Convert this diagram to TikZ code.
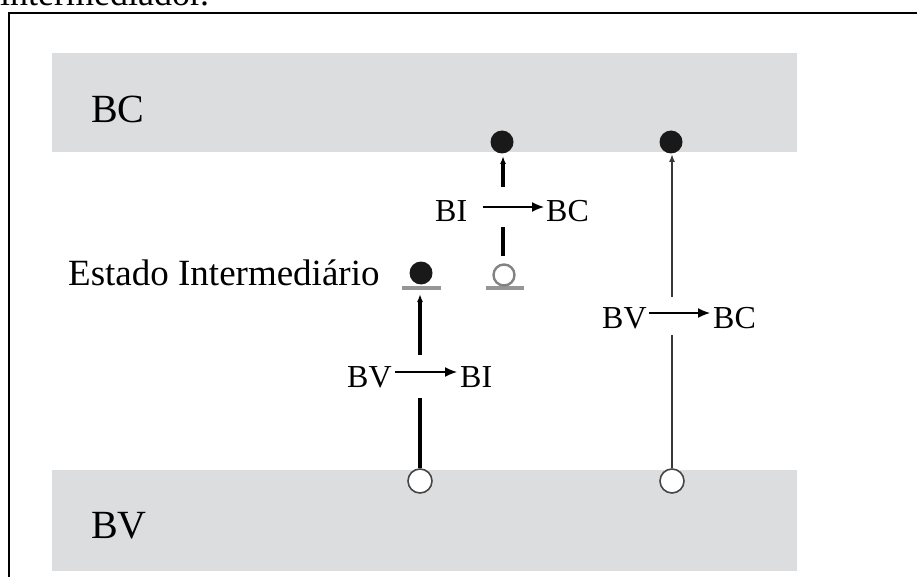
\documentclass[tikz,border=0pt]{standalone}
\usepackage{fontspec}
\setmainfont{Liberation Serif}
\usetikzlibrary{arrows.meta}
\definecolor{band}{RGB}{220,221,223}
\definecolor{bargray}{RGB}{150,150,150}
\definecolor{ringdark}{RGB}{70,70,70}
\definecolor{ringlight}{RGB}{130,130,130}
\begin{document}
\begin{tikzpicture}[x=1pt,y=-1pt,
  bigtxt/.style={anchor=base west,inner sep=0,font=\fontsize{40}{44}\selectfont},
  midtxt/.style={anchor=base west,inner sep=0,font=\fontsize{37}{41}\selectfont},
  smalltxt/.style={anchor=base west,inner sep=0,font=\fontsize{32}{36}\selectfont},
  electron/.style={circle,fill=black!90,inner sep=0,minimum size=23pt},
  hole/.style={circle,draw=ringdark,line width=1.6pt,fill=white,inner sep=0,minimum size=24pt},
  smallhole/.style={circle,draw=ringlight,line width=2.4pt,fill=white,inner sep=0,minimum size=21pt},
  level/.style={draw=bargray,line width=4pt},
  thickjump/.style={line width=3.4pt,black},
  thinjump/.style={line width=2.5pt,black!78},
  uptip/.style={-{Latex[length=8pt,width=6pt]}},
  trans/.style={line width=1.4pt,-{Latex[length=12pt,width=10pt]}}]
\useasboundingbox (0,0) rectangle (917,577);

% caption fragment and frame
\node[anchor=base west,inner sep=0,font=\fontsize{36}{40}\selectfont] (cap) at (0,6) {intermediador.};
\draw[line width=2pt] (9,577) -- (9,13) -- (917,13);

% conduction and valence bands
\fill[band] (52,53) rectangle (797,152);
\fill[band] (52,470) rectangle (797,571);
\node[bigtxt] (bc) at (91,123) {BC};
\node[bigtxt] (bv) at (91,538) {BV};

% intermediate level
\node[midtxt] (ei) at (68,285) {Estado Intermediário};
\draw[level] (402,288) -- (441,288);
\draw[level] (486,288) -- (524,288);
\node[electron] (e1) at (421,273) {};
\node[smallhole] (h1) at (504,275) {};

% electrons in the conduction band, holes in the valence band
\node[electron] (e2) at (502,142) {};
\node[electron] (e3) at (671,142) {};
\node[hole] (h2) at (420,481) {};
\node[hole] (h3) at (672,481) {};

% BV -> BI
\coordinate (a1) at (420,398);
\coordinate (a2) at (420,355);
\coordinate (a3) at (420,294);
\draw[thickjump] (h2.north) -- (a1);
\draw[thickjump,uptip] (a2) -- (a3);
\node[smalltxt] (l1a) at (347,387) {BV};
\node[smalltxt] (l1b) at (460,387) {BI};
\coordinate (t1a) at (395,372);
\coordinate (t1b) at (457,372);
\draw[trans] (t1a) -- (t1b);

% BI -> BC
\coordinate (b1) at (503,256);
\coordinate (b2) at (503,227);
\coordinate (b3) at (503,187);
\coordinate (b4) at (503,156);
\draw[thickjump] (b1) -- (b2);
\draw[thickjump,uptip] (b3) -- (b4);
\node[smalltxt] (l2a) at (435,222) {BI};
\node[smalltxt] (l2b) at (546,222) {BC};
\coordinate (t2a) at (483,207);
\coordinate (t2b) at (544,207);
\draw[trans] (t2a) -- (t2b);

% BV -> BC
\coordinate (c1) at (672,335);
\coordinate (c2) at (672,297);
\coordinate (c3) at (672,154);
\draw[thinjump] (h3.north) -- (c1);
\draw[thinjump,uptip] (c2) -- (c3);
\node[smalltxt] (l3a) at (602,328) {BV};
\node[smalltxt] (l3b) at (713,328) {BC};
\coordinate (t3a) at (649,313);
\coordinate (t3b) at (710,313);
\draw[trans] (t3a) -- (t3b);
\end{tikzpicture}
\end{document}
